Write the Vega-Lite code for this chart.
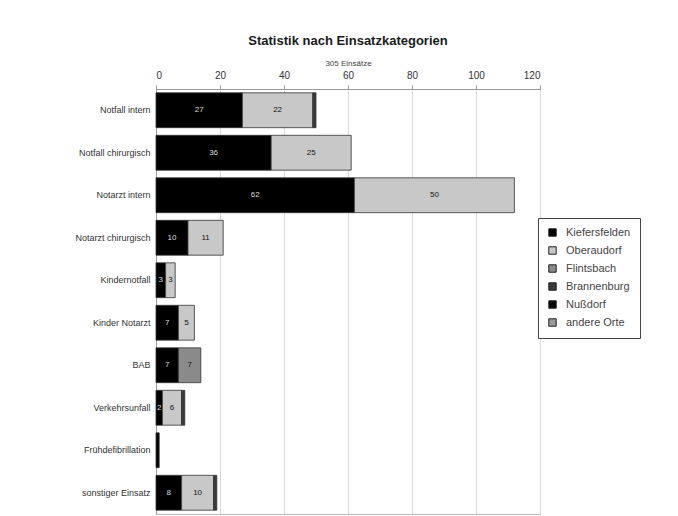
{
  "$schema": "https://vega.github.io/schema/vega-lite/v6.json",
  "width": 384,
  "height": 425,
  "autosize": {"type": "none"},
  "padding": {"left": 156, "top": 89, "right": 138, "bottom": 2},
  "background": "white",
  "title": {
    "text": "Statistik nach Einsatzkategorien",
    "font": "Liberation Sans",
    "fontSize": 13,
    "fontWeight": "bold",
    "color": "#1a1a1a",
    "anchor": "middle",
    "offset": 11
  },
  "data": {
    "values": [
      {"kategorie": "Notfall intern", "ort": "Kiefersfelden", "n": 27},
      {"kategorie": "Notfall intern", "ort": "Oberaudorf", "n": 22},
      {"kategorie": "Notfall intern", "ort": "Brannenburg", "n": 1},
      {"kategorie": "Notfall chirurgisch", "ort": "Kiefersfelden", "n": 36},
      {"kategorie": "Notfall chirurgisch", "ort": "Oberaudorf", "n": 25},
      {"kategorie": "Notarzt intern", "ort": "Kiefersfelden", "n": 62},
      {"kategorie": "Notarzt intern", "ort": "Oberaudorf", "n": 50},
      {"kategorie": "Notarzt chirurgisch", "ort": "Kiefersfelden", "n": 10},
      {"kategorie": "Notarzt chirurgisch", "ort": "Oberaudorf", "n": 11},
      {"kategorie": "Kindernotfall", "ort": "Kiefersfelden", "n": 3},
      {"kategorie": "Kindernotfall", "ort": "Oberaudorf", "n": 3},
      {"kategorie": "Kinder Notarzt", "ort": "Kiefersfelden", "n": 7},
      {"kategorie": "Kinder Notarzt", "ort": "Oberaudorf", "n": 5},
      {"kategorie": "BAB", "ort": "Kiefersfelden", "n": 7},
      {"kategorie": "BAB", "ort": "Flintsbach", "n": 7},
      {"kategorie": "Verkehrsunfall", "ort": "Kiefersfelden", "n": 2},
      {"kategorie": "Verkehrsunfall", "ort": "Oberaudorf", "n": 6},
      {"kategorie": "Verkehrsunfall", "ort": "Brannenburg", "n": 1},
      {"kategorie": "Frühdefibrillation", "ort": "Kiefersfelden", "n": 1},
      {"kategorie": "sonstiger Einsatz", "ort": "Kiefersfelden", "n": 8},
      {"kategorie": "sonstiger Einsatz", "ort": "Oberaudorf", "n": 10},
      {"kategorie": "sonstiger Einsatz", "ort": "Brannenburg", "n": 1}
    ]
  },
  "transform": [
    {"calculate": "indexof(['Kiefersfelden','Oberaudorf','Flintsbach','Brannenburg','Nußdorf','andere Orte'], datum.ort)", "as": "rang"},
    {"stack": "n", "groupby": ["kategorie"], "sort": [{"field": "rang", "order": "ascending"}], "as": ["x0", "x1"]},
    {"calculate": "(datum.x0 + datum.x1) / 2", "as": "xm"}
  ],
  "encoding": {
    "y": {
      "field": "kategorie",
      "type": "nominal",
      "sort": ["Notfall intern", "Notfall chirurgisch", "Notarzt intern", "Notarzt chirurgisch", "Kindernotfall", "Kinder Notarzt", "BAB", "Verkehrsunfall", "Frühdefibrillation", "sonstiger Einsatz"],
      "scale": {"paddingInner": 0.18, "paddingOuter": 0.09},
      "axis": {
        "title": null,
        "labelFont": "Liberation Sans",
        "labelFontSize": 9,
        "labelColor": "#333",
        "labelPadding": 6,
        "ticks": false,
        "domainColor": "#999"
      }
    }
  },
  "layer": [
    {
      "mark": {"type": "bar", "stroke": "#333", "strokeWidth": 0.8},
      "encoding": {
        "x": {
          "field": "x0",
          "type": "quantitative",
          "scale": {"domain": [0, 120], "nice": false},
          "axis": {
            "orient": "top",
            "values": [0, 20, 40, 60, 80, 100, 120],
            "title": "305 Einsätze",
            "titleFont": "Liberation Sans",
            "titleFontSize": 8,
            "titleFontWeight": "normal",
            "titleColor": "#444",
            "titlePadding": 3,
            "labelFont": "Liberation Sans",
            "labelFontSize": 10,
            "labelColor": "#333",
            "labelPadding": 5,
            "tickSize": 4,
            "tickColor": "#999",
            "domainColor": "#999",
            "grid": true,
            "gridColor": "#d9d9d9"
          }
        },
        "x2": {"field": "x1"},
        "color": {
          "field": "ort",
          "type": "nominal",
          "scale": {
            "domain": ["Kiefersfelden", "Oberaudorf", "Flintsbach", "Brannenburg", "Nußdorf", "andere Orte"],
            "range": ["#000000", "#c8c8c8", "#8a8a8a", "#3a3a3a", "#0a0a0a", "#9a9a9a"]
          },
          "legend": {
            "title": null,
            "orient": "none",
            "legendX": 382,
            "legendY": 129,
            "fillColor": "white",
            "strokeColor": "#444",
            "padding": 9,
            "symbolType": "square",
            "symbolSize": 55,
            "symbolStrokeColor": "#222",
            "symbolStrokeWidth": 1,
            "labelFont": "Liberation Sans",
            "labelFontSize": 11,
            "labelColor": "#444",
            "rowPadding": 5,
            "labelOffset": 8
          }
        }
      }
    },
    {
      "transform": [{"filter": "datum.n >= 2"}],
      "mark": {"type": "text", "font": "Liberation Sans", "fontSize": 8},
      "encoding": {
        "x": {"field": "xm", "type": "quantitative"},
        "text": {"field": "n", "type": "quantitative"},
        "color": {
          "condition": {"test": "datum.ort === 'Kiefersfelden' || datum.ort === 'Nußdorf' || datum.ort === 'Brannenburg'", "value": "#dddddd"},
          "value": "#111111"
        }
      }
    }
  ],
  "config": {
    "view": {"stroke": "#bbbbbb"}
  }
}
